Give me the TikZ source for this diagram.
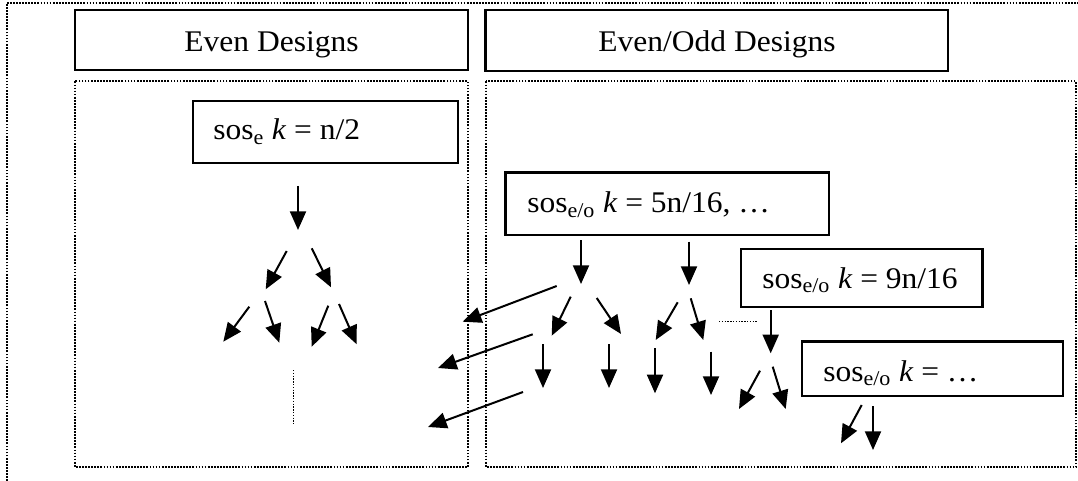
\documentclass[tikz,border=0pt]{standalone}
\usepackage{fontspec}
\newfontfamily\lab{Liberation Serif}[FakeStretch=1.05]
\usetikzlibrary{arrows.meta}
\begin{document}
\begin{tikzpicture}[x=0.75pt,y=-0.75pt,
  frame/.style={line width=1.5pt, dash pattern=on 1.3pt off 1pt},
  thindots/.style={line width=1.1pt, dash pattern=on 1pt off 1.1pt},
  box/.style={draw, line width=1.6pt, rectangle, inner sep=0pt},
  arr/.style={line width=1.5pt, -{Triangle[length=14pt,width=12pt]}},
  lbl/.style={font=\lab\fontsize{22.5}{26}\selectfont, inner sep=0pt}]
\useasboundingbox (0,0) rectangle (1078,481);

% outer frame and panels
\draw[frame] (6.7,481) -- (6.7,2.7) -- (1078,2.7);
\draw[frame] (75,81.5) rectangle (468,467);
\draw[frame] (486,81.5) rectangle (1076,467);

% headers
\node[box, minimum width=393*0.75pt, minimum height=60*0.75pt] (hL) at (271.5,40) {};
\node[lbl, anchor=base] (hLt) at (271.5,51.7) {Even Designs};
\node[box, minimum width=462.5*0.75pt, minimum height=61*0.75pt] (hR) at (716.75,40.5) {};
\node[lbl, anchor=base] (hRt) at (717,52) {Even/Odd Designs};

% boxes
\node[box, minimum width=265*0.75pt, minimum height=62*0.75pt] (bE) at (325.5,132) {};
\node[lbl, anchor=base west] (tE) at (213,140) {sos\textsubscript{e} \textit{k} = n/2};
\node[box, minimum width=323.5*0.75pt, minimum height=62.5*0.75pt] (b5) at (667.25,203.75) {};
\node[lbl, anchor=base west] (t5) at (527,213) {sos\textsubscript{e/o} \textit{k} = 5n/16, …};
\node[box, minimum width=241.5*0.75pt, minimum height=58*0.75pt] (b9) at (861.75,278) {};
\node[lbl, anchor=base west] (t9) at (762,288) {sos\textsubscript{e/o} \textit{k} = 9n/16};
\node[box, minimum width=261.3*0.75pt, minimum height=54.5*0.75pt] (bD) at (932.35,368.75) {};
\node[lbl, anchor=base west] (tD) at (823,381) {sos\textsubscript{e/o} \textit{k} = …};

% left tree coordinates
\coordinate (a0s) at (298,186);   \coordinate (a0e) at (298,230);
\coordinate (a1s) at (286.7,251); \coordinate (a1e) at (265.7,289.3);
\coordinate (a2s) at (311.7,248.3); \coordinate (a2e) at (331,287.3);
\coordinate (a3s) at (249.3,306.7); \coordinate (a3e) at (223.3,341.7);
\coordinate (a4s) at (265,301);   \coordinate (a4e) at (279.3,342.7);
\coordinate (a5s) at (328.3,305.7); \coordinate (a5e) at (311.7,346.7);
\coordinate (a6s) at (339,304);   \coordinate (a6e) at (356.7,344.3);
\coordinate (d1s) at (293.7,370); \coordinate (d1e) at (293.7,423.3);

\foreach \i in {0,...,6} \draw[arr] (a\i s) -- (a\i e);
\draw[thindots] (d1s) -- (d1e);

% right tree coordinates
\coordinate (b1s) at (581,240);   \coordinate (b1e) at (581,284);
\coordinate (b2s) at (689,241.7); \coordinate (b2e) at (689,285);
\coordinate (b3s) at (570.7,296.7); \coordinate (b3e) at (551.7,335.7);
\coordinate (b4s) at (596.7,298); \coordinate (b4e) at (621,334);
\coordinate (b5s) at (677.7,302.3); \coordinate (b5e) at (655.7,340);
\coordinate (b6s) at (690.7,298.3); \coordinate (b6e) at (703.3,340);
\coordinate (b7s) at (770.7,310); \coordinate (b7e) at (770.7,353.3);
\coordinate (b8s) at (760,370.7); \coordinate (b8e) at (739,409);
\coordinate (b9s) at (772.7,366.7); \coordinate (b9e) at (785.7,409);
\coordinate (b10s) at (861.7,405); \coordinate (b10e) at (841,443.3);
\coordinate (b11s) at (873,406); \coordinate (b11e) at (873,450);
\coordinate (v1s) at (543,344); \coordinate (v1e) at (543,388);
\coordinate (v2s) at (609,344); \coordinate (v2e) at (609,388);
\coordinate (v3s) at (655,348.3); \coordinate (v3e) at (655,393.3);
\coordinate (v4s) at (711,351.7); \coordinate (v4e) at (711,395);
\coordinate (l1s) at (556.7,286); \coordinate (l1e) at (462.7,321.7);
\coordinate (l2s) at (532.7,334.3); \coordinate (l2e) at (438,368);
\coordinate (l3s) at (523,392); \coordinate (l3e) at (428,427);
\coordinate (d2s) at (719,321.7); \coordinate (d2e) at (756.7,321.7);

\foreach \n in {b1,b2,b3,b4,b5,b6,b7,b8,b9,b10,b11,v1,v2,v3,v4,l1,l2,l3}
  \draw[arr] (\n s) -- (\n e);
\draw[thindots] (d2s) -- (d2e);
\end{tikzpicture}
\end{document}
